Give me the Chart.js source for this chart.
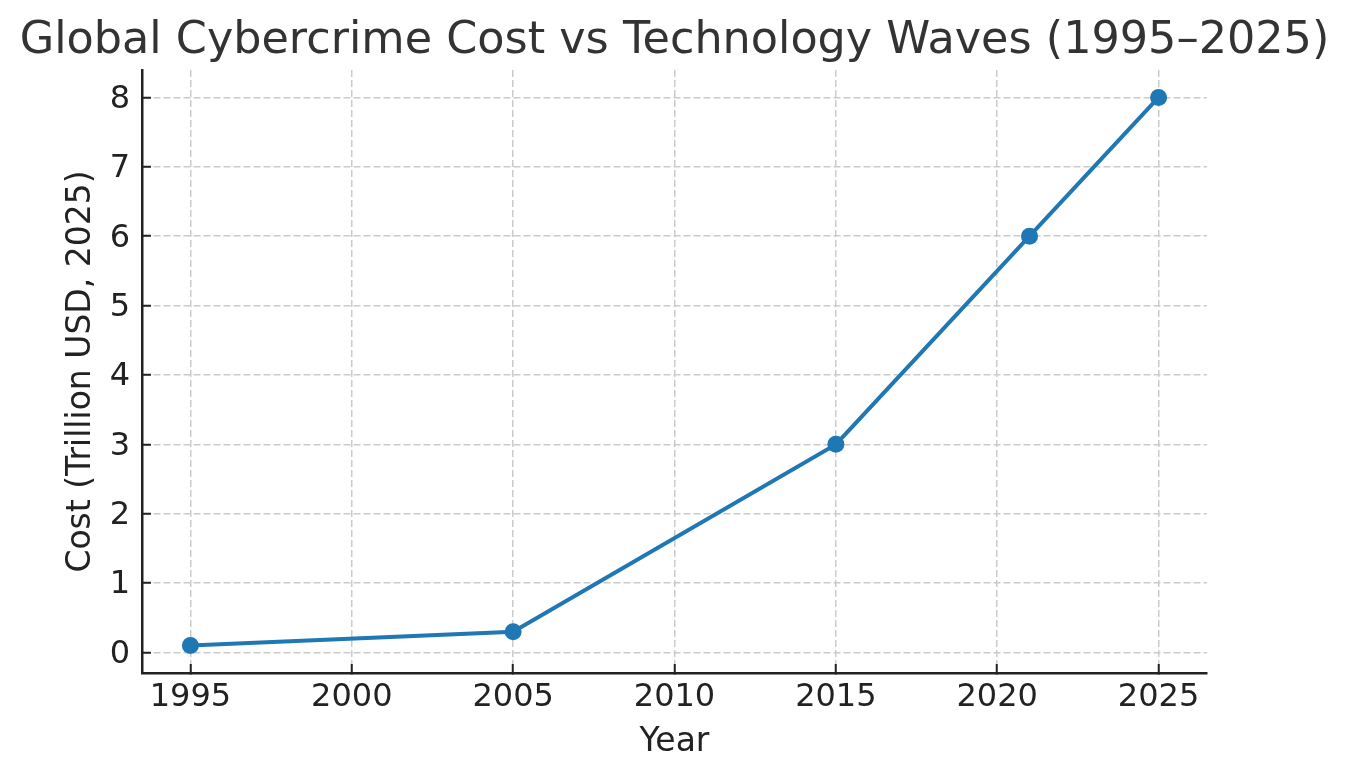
<!DOCTYPE html>
<html>
<head>
<meta charset="utf-8">
<script src="https://cdn.jsdelivr.net/npm/chart.js@4.4.1/dist/chart.umd.min.js"></script>
<style>
  html, body { margin: 0; padding: 0; background: #fff; }
  #wrap { width: 1349px; height: 780px; }
</style>
</head>
<body>
<div id="wrap"><canvas id="chart"></canvas></div>
<script>
const years = [1995, 2005, 2015, 2021, 2025];
const costs = [0.1, 0.3, 3, 6, 8];
const xTicks = [1995, 2000, 2005, 2010, 2015, 2020, 2025];
const yTicks = [0, 1, 2, 3, 4, 5, 6, 7, 8];

const font = 'DejaVu Sans';
const textColor = '#222222';
const gridColor = '#cbcbcb';

const points = years.map((y, i) => ({ x: y, y: costs[i] }));

// ticks point inward like the original, so tickLength is negative
const gridOpts = {
    color: gridColor,
    lineWidth: 1.5,
    tickLength: -9,
    tickColor: textColor,
    tickWidth: 2,
    tickBorderDash: []
};
const borderOpts = { display: true, color: textColor, width: 2.5, dash: [7, 3] };

new Chart(document.getElementById('chart'), {
    type: 'line',
    data: {
        datasets: [{
            data: points,
            borderColor: '#1f77b4',
            backgroundColor: '#1f77b4',
            borderWidth: 4,
            pointRadius: 8.5,
            pointHoverRadius: 8.5,
            pointBorderWidth: 0,
            tension: 0
        }]
    },
    options: {
        responsive: true,
        maintainAspectRatio: false,
        animation: false,
        layout: { padding: 0 },
        plugins: {
            legend: { display: false },
            tooltip: { enabled: false },
            title: {
                display: true,
                text: 'Global Cybercrime Cost vs Technology Waves (1995–2025)',
                color: '#333333',
                font: { family: font, size: 44.5, weight: 'normal' },
                padding: { top: 15, bottom: 1.6 }
            }
        },
        scales: {
            x: {
                type: 'linear',
                min: 1993.5,
                max: 2026.5,
                afterBuildTicks: s => { s.ticks = xTicks.map(v => ({ value: v })); },
                afterFit: s => { s.height = 107; },
                ticks: {
                    stepSize: 5,
                    includeBounds: false,
                    color: textColor,
                    padding: 14,
                    maxRotation: 0,
                    font: { family: font, size: 32 },
                    callback: v => String(v)
                },
                grid: gridOpts,
                border: borderOpts,
                title: {
                    display: true,
                    text: 'Year',
                    color: textColor,
                    font: { family: font, size: 33 },
                    padding: { top: 0, bottom: 17.5 }
                }
            },
            y: {
                type: 'linear',
                min: -0.295,
                max: 8.395,
                afterBuildTicks: s => { s.ticks = yTicks.map(v => ({ value: v })); },
                afterFit: s => { s.width = 142; },
                ticks: {
                    stepSize: 1,
                    includeBounds: false,
                    color: textColor,
                    padding: 21,
                    labelOffset: 2,
                    font: { family: font, size: 32 },
                    callback: v => String(v)
                },
                grid: gridOpts,
                border: borderOpts,
                title: {
                    display: true,
                    text: 'Cost (Trillion USD, 2025)',
                    color: textColor,
                    font: { family: font, size: 33 },
                    padding: { top: 62, bottom: 0 }
                }
            },
            yr: {
                type: 'linear',
                position: 'right',
                display: true,
                afterFit: s => { s.width = 142; },
                ticks: { display: false },
                grid: { display: false, drawTicks: false },
                border: { display: false }
            }
        }
    }
});
</script>
</body>
</html>
